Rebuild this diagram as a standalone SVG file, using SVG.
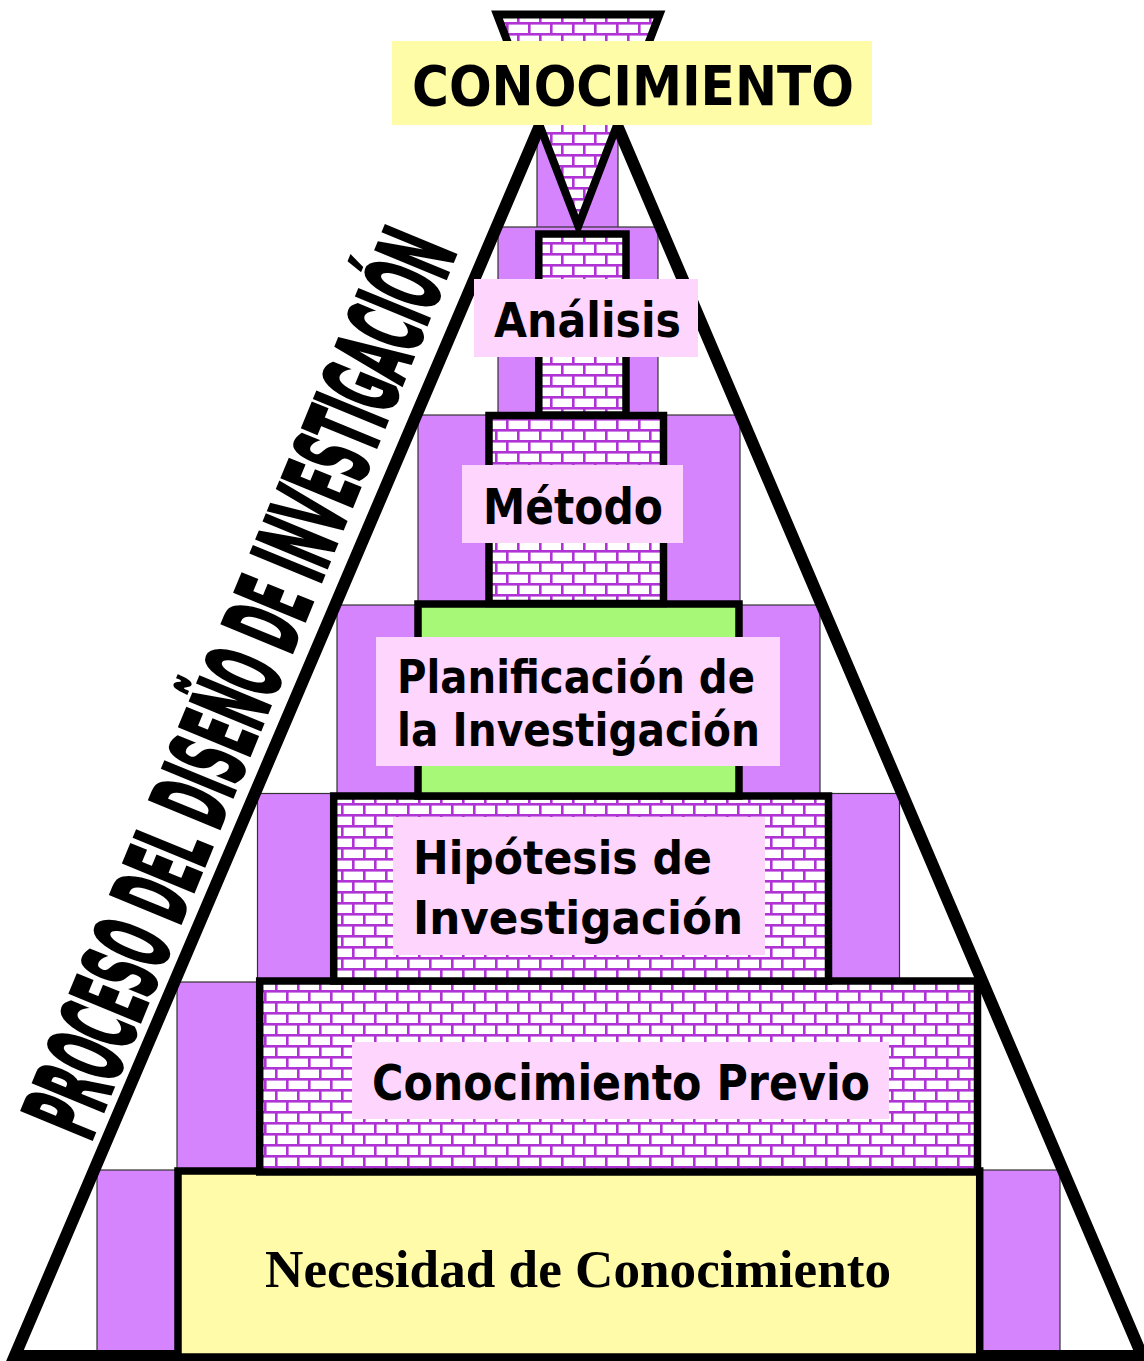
<svg xmlns="http://www.w3.org/2000/svg" width="1144" height="1361" viewBox="0 0 1144 1361">
  <defs>
    <pattern id="brick" patternUnits="userSpaceOnUse" x="0" y="0" width="22" height="22">
      <rect width="22" height="22" fill="#ffffff"/>
      <rect x="0" y="0" width="22" height="2.6" fill="#B033D6"/>
      <rect x="0" y="11" width="22" height="2.6" fill="#B033D6"/>
      <rect x="0" y="0" width="2.6" height="11" fill="#B033D6"/>
      <rect x="11" y="11" width="2.6" height="11" fill="#B033D6"/>
    </pattern>
    <style>
      .purple { fill: #D684FE; stroke: #333333; stroke-width: 1.2; }
      .block { stroke: #000000; stroke-width: 7.5; }
      .brick { fill: url(#brick); }
      .label { fill: #FDD5FD; }
      .lbl { font-family: "DejaVu Sans", Verdana, sans-serif; font-weight: bold; fill: #000000; }
      .serif { font-family: "Liberation Serif", "Times New Roman", serif; font-weight: bold; fill: #000000; }
      .wordart { font-family: "DejaVu Sans Condensed", "DejaVu Sans", sans-serif; font-weight: bold; fill: #000000; stroke: #000000; stroke-width: 3.5; stroke-linejoin: miter; }
    </style>
  </defs>

  <rect width="1144" height="1361" fill="#ffffff"/>

  <!-- purple backing blocks -->
  <g id="backing">
    <rect class="purple" x="537" y="100" width="81" height="128"/>
    <rect class="purple" x="498" y="227" width="160" height="188"/>
    <rect class="purple" x="418" y="415" width="322" height="190"/>
    <rect class="purple" x="337" y="605" width="483" height="190"/>
    <rect class="purple" x="257.5" y="793.5" width="642" height="188"/>
    <rect class="purple" x="177" y="982" width="803" height="190"/>
    <rect class="purple" x="97" y="1170" width="963" height="188"/>
  </g>

  <!-- big pyramid outline -->
  <g id="pyramid">
    <polygon points="578.5,35 1142.2,1356 14.8,1356" fill="none" stroke="#000000" stroke-width="12" stroke-linejoin="miter"/>
  </g>

  <!-- funnel on top -->
  <g id="funnel">
    <polygon points="497,14.5 659.5,14.5 578.3,226" class="brick" stroke="#000000" stroke-width="8"/>
  </g>

  <g id="necesidad">
    <rect x="178" y="1171" width="801.7" height="186" fill="#FFFBA9" class="block"/>
    <text class="serif" x="578" y="1287" font-size="53" text-anchor="middle" textLength="626" lengthAdjust="spacingAndGlyphs">Necesidad de Conocimiento</text>
  </g>

  <g id="conocimiento-previo">
    <rect x="259.7" y="981" width="717.8" height="191" class="brick block"/>
    <rect x="352" y="1042" width="537" height="77" class="label"/>
    <text class="lbl" x="372" y="1100" font-size="49" textLength="498" lengthAdjust="spacingAndGlyphs">Conocimiento Previo</text>
  </g>

  <g id="hipotesis">
    <rect x="333.7" y="796" width="494.8" height="185" class="brick block"/>
    <rect x="393" y="817" width="372" height="138" class="label"/>
    <text class="lbl" x="413" y="874" font-size="47" textLength="299" lengthAdjust="spacingAndGlyphs">Hipótesis de</text>
    <text class="lbl" x="413" y="934" font-size="47" textLength="330" lengthAdjust="spacingAndGlyphs">Investigación</text>
  </g>

  <g id="planificacion">
    <rect x="418" y="604" width="321" height="192" fill="#A8F878" class="block"/>
    <rect x="376" y="637" width="404" height="129" class="label"/>
    <text class="lbl" x="397" y="693" font-size="47" textLength="358" lengthAdjust="spacingAndGlyphs">Planificación de</text>
    <text class="lbl" x="397" y="746" font-size="47" textLength="363" lengthAdjust="spacingAndGlyphs">la Investigación</text>
  </g>

  <g id="metodo">
    <rect x="489" y="415.5" width="174.5" height="188" class="brick block"/>
    <rect x="462" y="465" width="221" height="78" class="label"/>
    <text class="lbl" x="483" y="524" font-size="49" textLength="180" lengthAdjust="spacingAndGlyphs">Método</text>
  </g>

  <g id="analisis">
    <rect x="538.8" y="234" width="87.2" height="181" class="brick block"/>
    <rect x="474" y="279" width="224" height="78" class="label"/>
    <text class="lbl" x="494" y="337" font-size="48" textLength="187" lengthAdjust="spacingAndGlyphs">Análisis</text>
  </g>

  <g id="conocimiento">
    <rect x="392" y="41" width="480" height="84" fill="#FFFCA8"/>
    <text class="lbl" x="412" y="105" font-size="55" textLength="442" lengthAdjust="spacingAndGlyphs">CONOCIMIENTO</text>
  </g>

  <g id="side-title">
    <text class="wordart" transform="translate(90,1143) rotate(-67.65)" x="0" y="0" font-size="103" textLength="965" lengthAdjust="spacingAndGlyphs">PROCESO DEL DISEÑO DE INVESTIGACIÓN</text>
  </g>
</svg>
